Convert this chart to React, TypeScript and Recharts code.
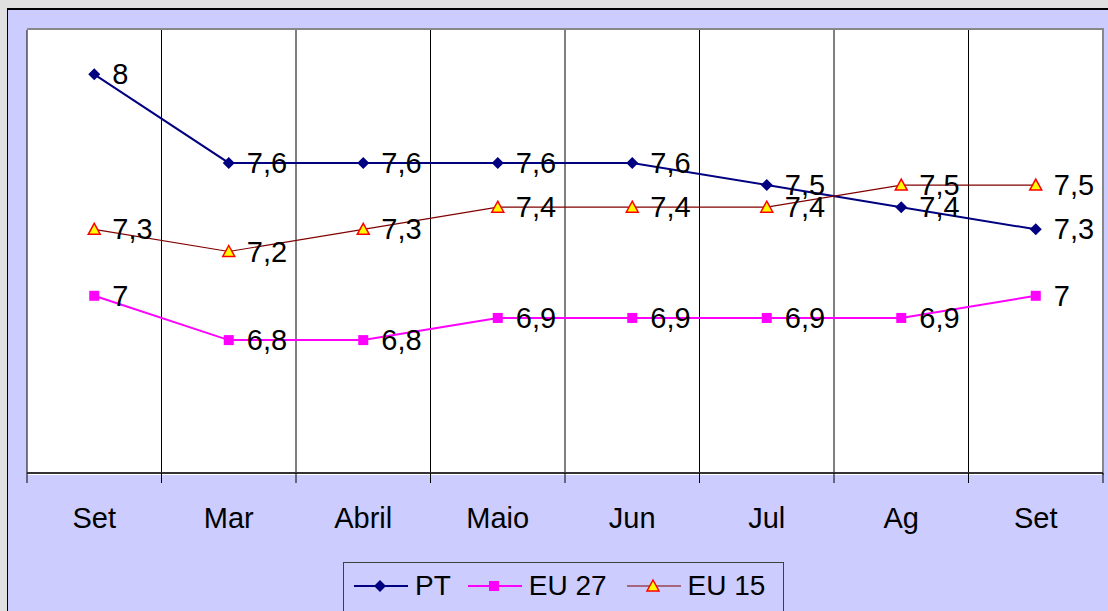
import React from 'react'
import { LineChart, Line, XAxis, YAxis, CartesianGrid, LabelList, Legend } from 'recharts'

const categories = ['Set', 'Mar', 'Abril', 'Maio', 'Jun', 'Jul', 'Ag', 'Set']
const ptValues = [8, 7.6, 7.6, 7.6, 7.6, 7.5, 7.4, 7.3]
const eu27Values = [7, 6.8, 6.8, 6.9, 6.9, 6.9, 6.9, 7]
const eu15Values = [7.3, 7.2, 7.3, 7.4, 7.4, 7.4, 7.5, 7.5]

const data = categories.map((month, i) => ({
  month,
  pt: ptValues[i],
  eu27: eu27Values[i],
  eu15: eu15Values[i],
}))

const FONT = '"Liberation Sans", Arial, sans-serif'
const PLOT_LEFT = 27
const PLOT_TOP = 30
const PLOT_W = 1076
const BAND = PLOT_W / categories.length

const fmt = (v: number) => String(v).replace('.', ',')

function Diamond({ cx, cy }: any) {
  if (cx == null || cy == null) return null
  const r = 6
  return <polygon points={`${cx},${cy - r} ${cx + r},${cy} ${cx},${cy + r} ${cx - r},${cy}`} fill="#000080" />
}

function Square({ cx, cy }: any) {
  if (cx == null || cy == null) return null
  return <rect x={cx - 5} y={cy - 5} width={10} height={10} fill="#ff00ff" />
}

function Triangle({ cx, cy }: any) {
  if (cx == null || cy == null) return null
  return (
    <polygon
      points={`${cx},${cy - 6} ${cx + 6},${cy + 5} ${cx - 6},${cy + 5}`}
      fill="#ffff00"
      stroke="#ff0000"
      strokeWidth={1.5}
    />
  )
}

function ValueLabel({ x, y, value }: any) {
  return (
    <text x={x + 18} y={y} dominantBaseline="central" fontSize={29} fontFamily={FONT} fill="#000">
      {fmt(value)}
    </text>
  )
}

function MonthTick({ x, y, payload, index }: any) {
  const left = x - BAND / 2
  return (
    <g>
      <line x1={left} y1={y} x2={left} y2={y + 10} stroke="#000" />
      {index === categories.length - 1 && <line x1={x + BAND / 2} y1={y} x2={x + BAND / 2} y2={y + 10} stroke="#000" />}
      <text x={x} y={y + 45} textAnchor="middle" dominantBaseline="central" fontSize={29} fontFamily={FONT} fill="#000">
        {payload.value}
      </text>
    </g>
  )
}

function LegendBox() {
  const items = [
    { name: 'PT', color: '#000080', w: 2, marker: <Diamond cx={26} cy={12} /> },
    { name: 'EU 27', color: '#ff00ff', w: 2, marker: <Square cx={26} cy={12} /> },
    { name: 'EU 15', color: '#800000', w: 1, marker: <Triangle cx={26} cy={12} /> },
  ]
  return (
    <div
      style={{
        width: 441,
        height: 60,
        border: '1px solid #404040',
        display: 'flex',
        alignItems: 'flex-start',
        paddingLeft: 10,
        paddingTop: 9,
        boxSizing: 'border-box',
        fontFamily: FONT,
        fontSize: 28,
        color: '#000',
        whiteSpace: 'nowrap',
      }}
    >
      {items.map((it, i) => (
        <div key={it.name} style={{ display: 'flex', alignItems: 'center', flexShrink: 0, marginRight: i === 0 ? 17 : 20 }}>
          <svg width={54} height={24} style={{ flexShrink: 0 }}>
            <line x1={0} y1={12} x2={54} y2={12} stroke={it.color} strokeWidth={it.w} />
            {it.marker}
          </svg>
          <span style={{ marginLeft: 7, lineHeight: '28px' }}>{it.name}</span>
        </div>
      ))}
    </div>
  )
}

export default function App() {
  return (
    <div style={{ position: 'fixed', left: 0, top: 0, width: 1108, height: 611, background: '#e0e0e0', overflow: 'hidden' }}>
      <div
        style={{
          position: 'absolute',
          left: 7,
          top: 8,
          width: 1120,
          height: 620,
          background: '#ccccff',
          borderLeft: '1px solid #000',
          borderTop: '2px solid #000',
        }}
      />
      <div
        style={{
          position: 'absolute',
          left: PLOT_LEFT,
          top: PLOT_TOP - 2,
          width: PLOT_W - 1,
          height: 445,
          background: '#fff',
          borderTop: '2px solid #888',
          borderRight: '2px solid #888',
          boxSizing: 'content-box',
        }}
      />
      <div style={{ position: 'absolute', left: 0, top: 0 }}>
        <LineChart
          width={1108}
          height={611}
          data={data}
          margin={{ top: PLOT_TOP, left: PLOT_LEFT, right: 1108 - PLOT_LEFT - PLOT_W, bottom: 78 }}
        >
          <CartesianGrid
            horizontal={false}
            stroke="#000"
            strokeDasharray=""
            verticalCoordinatesGenerator={({ offset }: any) =>
              categories.map((_, i) => offset.left + (i * offset.width) / categories.length)
            }
          />
          <XAxis
            dataKey="month"
            height={60}
            stroke="#333"
            strokeWidth={2}
            tickLine={false}
            tickSize={0}
            tickMargin={0}
            interval={0}
            padding={{ left: BAND / 2, right: BAND / 2 }}
            tick={<MonthTick />}
          />
          <YAxis hide width={0} domain={[6.2, 8.2]} />
          <Legend
            verticalAlign="middle"
            align="center"
            content={<LegendBox />}
            wrapperStyle={{ left: 343, top: 562, width: 441, height: 60 }}
          />
          <Line dataKey="pt" name="PT" stroke="#000080" strokeWidth={2} dot={<Diamond />} activeDot={false} isAnimationActive={false}>
            <LabelList dataKey="pt" content={<ValueLabel />} />
          </Line>
          <Line dataKey="eu27" name="EU 27" stroke="#ff00ff" strokeWidth={2} dot={<Square />} activeDot={false} isAnimationActive={false}>
            <LabelList dataKey="eu27" content={<ValueLabel />} />
          </Line>
          <Line dataKey="eu15" name="EU 15" stroke="#800000" strokeWidth={1.2} dot={<Triangle />} activeDot={false} isAnimationActive={false}>
            <LabelList dataKey="eu15" content={<ValueLabel />} />
          </Line>
        </LineChart>
      </div>
    </div>
  )
}
